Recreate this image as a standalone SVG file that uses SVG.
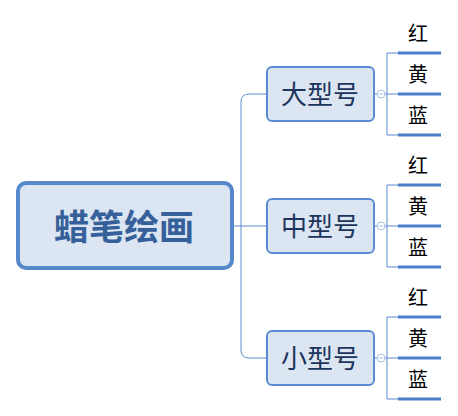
<svg xmlns="http://www.w3.org/2000/svg" width="458" height="416" viewBox="0 0 458 416">
<style>
.root{fill:#dce6f2;stroke:#5589cc;stroke-width:4}
.mid{fill:#dce6f2;stroke:#5b8bd0;stroke-width:2}
.rt{font-family:"Noto Sans CJK SC","Noto Sans",sans-serif;font-size:35px;font-weight:bold;fill:#36609a;text-anchor:middle}
.mt{font-family:"Noto Sans CJK SC","Noto Sans",sans-serif;font-size:26px;fill:#1c355c;text-anchor:middle}
.lt{font-family:"Noto Sans CJK SC","Noto Sans",sans-serif;font-size:20px;fill:#000;text-anchor:middle}
.ln{fill:none;stroke:#5b8bd0;stroke-width:1}
.ul{stroke:#4a7ec8;stroke-width:3}
.cc{fill:#fff;stroke:#a9c2e8;stroke-width:1}
</style>
<g id="connectors">
<path class="ln" d="M233 226H241"/>
<path class="ln" d="M267 94H249Q241 94 241 102V350Q241 358 249 358H267"/>
<path class="ln" d="M241 226H267"/>
<path class="ln" d="M374 94H387M387 53V135M387 53H398M387 94H398M387 135H398"/>
<path class="ln" d="M374 226H387M387 185V267M387 185H398M387 226H398M387 267H398"/>
<path class="ln" d="M374 358H387M387 317V399M387 317H398M387 358H398M387 399H398"/>
<circle class="cc" cx="381" cy="94" r="4"/>
<circle class="cc" cx="381" cy="226" r="4"/>
<circle class="cc" cx="381" cy="358" r="4"/>
<path class="ln" d="M378.5 94H383.5M378.5 226H383.5M378.5 358H383.5" style="stroke:#a9c2e8"/>
</g>
<g id="root"><rect class="root" x="18" y="183" width="214" height="85" rx="8"/><text class="rt" x="124" y="240">蜡笔绘画</text></g>
<g id="large"><rect class="mid" x="267" y="67" width="107" height="54" rx="5"/><text class="mt" x="320" y="104">大型号</text></g>
<g id="medium"><rect class="mid" x="267" y="199" width="107" height="54" rx="5"/><text class="mt" x="320" y="236">中型号</text></g>
<g id="small"><rect class="mid" x="267" y="331" width="107" height="54" rx="5"/><text class="mt" x="320" y="368">小型号</text></g>
<g id="large-red"><text class="lt" x="418" y="41">红</text><path class="ul" d="M398 53H441"/></g>
<g id="large-yellow"><text class="lt" x="418" y="82">黄</text><path class="ul" d="M398 94H441"/></g>
<g id="large-blue"><text class="lt" x="418" y="123">蓝</text><path class="ul" d="M398 135H441"/></g>
<g id="medium-red"><text class="lt" x="418" y="173">红</text><path class="ul" d="M398 185H441"/></g>
<g id="medium-yellow"><text class="lt" x="418" y="214">黄</text><path class="ul" d="M398 226H441"/></g>
<g id="medium-blue"><text class="lt" x="418" y="255">蓝</text><path class="ul" d="M398 267H441"/></g>
<g id="small-red"><text class="lt" x="418" y="305">红</text><path class="ul" d="M398 317H441"/></g>
<g id="small-yellow"><text class="lt" x="418" y="346">黄</text><path class="ul" d="M398 358H441"/></g>
<g id="small-blue"><text class="lt" x="418" y="387">蓝</text><path class="ul" d="M398 399H441"/></g>
</svg>
